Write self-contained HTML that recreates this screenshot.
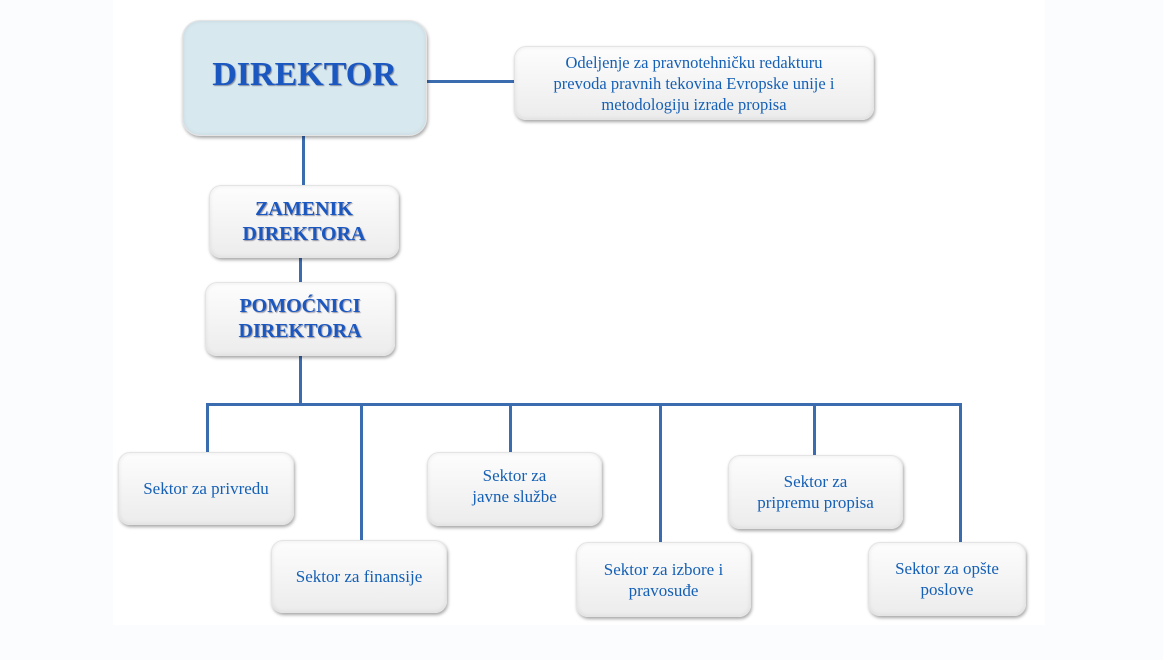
<!DOCTYPE html>
<html><head><meta charset="utf-8"><style>
body{margin:0;width:1163px;height:660px;background:#fbfcfe;position:relative;overflow:hidden;font-family:"Liberation Serif",serif}
.main{position:absolute;left:113px;top:0;width:932px;height:625px;background:#fff}
.b{position:absolute;box-sizing:border-box;border-radius:12px;background:linear-gradient(#fdfdfd,#ececec);box-shadow:1px 2px 3px rgba(0,0,0,.35), inset 0 0 4px rgba(0,0,0,.08);border:1px solid #e4e4e4;display:flex;align-items:center;justify-content:center;text-align:center;color:#1560b5;font-size:17px;line-height:21px}
.h{font-weight:bold;color:#1a57c0;text-shadow:1px 1px 1px rgba(0,0,40,.4);font-size:20px;line-height:25px}
.l{position:absolute;background:#3c6cb0}
</style></head><body>
<div class="main"></div>
<div class="l" style="left:427px;top:80px;width:88px;height:3px"></div>
<div class="l" style="left:302px;top:136px;width:3px;height:50px"></div>
<div class="l" style="left:299px;top:258px;width:3px;height:25px"></div>
<div class="l" style="left:299px;top:356px;width:3px;height:49px"></div>
<div class="l" style="left:206px;top:403px;width:756px;height:3px"></div>
<div class="l" style="left:206px;top:403px;width:3px;height:50px"></div>
<div class="l" style="left:360px;top:403px;width:3px;height:138px"></div>
<div class="l" style="left:509px;top:403px;width:3px;height:50px"></div>
<div class="l" style="left:659px;top:403px;width:3px;height:140px"></div>
<div class="l" style="left:813px;top:403px;width:3px;height:53px"></div>
<div class="l" style="left:959px;top:403px;width:3px;height:140px"></div>
<div class="b h" style="left:182px;top:20px;width:245px;height:116px;border-radius:18px;background:#d7e8ef;font-size:34px;line-height:38px;padding-bottom:6px">DIREKTOR</div>
<div class="b" style="left:514px;top:46px;width:360px;height:74px;font-size:16.5px">Odeljenje za pravnotehničku redakturu<br>prevoda pravnih tekovina Evropske unije i<br>metodologiju izrade propisa</div>
<div class="b h" style="left:209px;top:185px;width:190px;height:73px">ZAMENIK<br>DIREKTORA</div>
<div class="b h" style="left:205px;top:282px;width:190px;height:74px">POMOĆNICI<br>DIREKTORA</div>
<div class="b" style="left:118px;top:452px;width:176px;height:73px">Sektor za privredu</div>
<div class="b" style="left:271px;top:540px;width:176px;height:73px">Sektor za finansije</div>
<div class="b" style="left:427px;top:452px;width:175px;height:74px;padding-bottom:6px">Sektor za<br>javne službe</div>
<div class="b" style="left:576px;top:542px;width:175px;height:75px">Sektor za izbore i<br>pravosuđe</div>
<div class="b" style="left:728px;top:455px;width:175px;height:74px">Sektor za<br>pripremu propisa</div>
<div class="b" style="left:868px;top:542px;width:158px;height:74px">Sektor za opšte<br>poslove</div>
</body></html>
